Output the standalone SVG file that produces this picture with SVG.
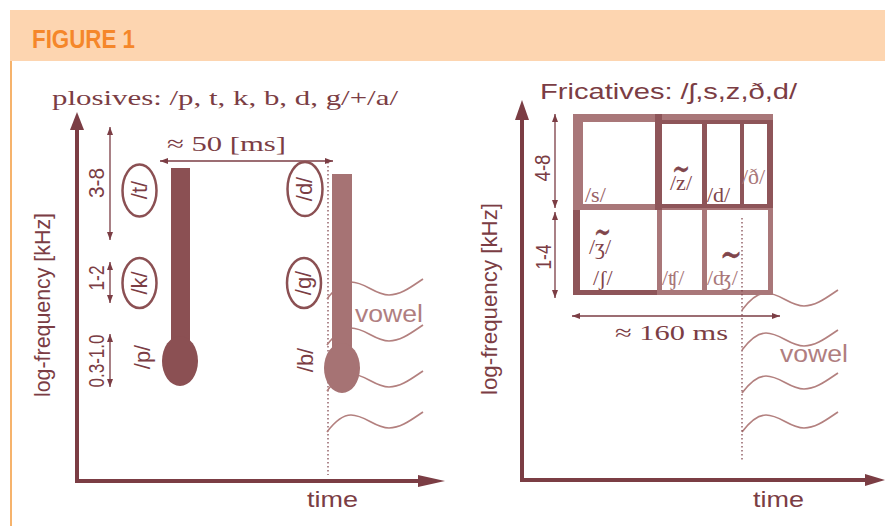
<svg xmlns="http://www.w3.org/2000/svg" width="885" height="526" viewBox="0 0 885 526">
<style>
.sans{font-family:"Liberation Sans",Arial,sans-serif}
.serif{font-family:"Liberation Serif","DejaVu Serif",serif}
.dk{fill:#7B3D44}
.ax{stroke:#7B3D44;fill:none}
.lbl{fill:#7B3D44;font-size:22px}
.thin{stroke:#7B3D44;stroke-width:1.3;fill:none;marker-start:url(#ah);marker-end:url(#ah)}
.oval{fill:#fff;stroke:#8B5053;stroke-width:2.5}
.wave{fill:none;stroke:#B3807F;stroke-width:1.7}
.dot{stroke:#7B3D44;stroke-width:1.2;stroke-dasharray:1.5 2.5;fill:none}
.cd{fill:#7F454B}
.cl{fill:#A97779}
.tl{stroke:#7F454B;stroke-width:0.6}
</style>
<defs>
<marker id="ah" viewBox="0 0 8 6" refX="8" refY="3" markerWidth="8" markerHeight="6" markerUnits="userSpaceOnUse" orient="auto-start-reverse">
<path d="M0,0 L8,3 L0,6 z" fill="#7B3D44"/>
</marker>
<path id="wave" d="M0,0 C6,-8 14,-17 24,-17 C38,-17 48,-4 62,-4 C74,-4 84,-12 96,-20"/>
</defs>
<rect width="885" height="526" fill="#fff"/>
<g id="header">
<rect x="10" y="10" width="875" height="51" fill="#FDD5B0"/>
<line x1="11" y1="61" x2="11" y2="526" stroke="#F39A3B" stroke-width="1.5"/>
<text x="32" y="48" class="sans" font-weight="bold" font-size="26" fill="#F5872A" textLength="103" lengthAdjust="spacingAndGlyphs">FIGURE 1</text>
</g>

<g id="plosives-panel">
<text x="52" y="105" class="serif lbl" font-size="23" textLength="346" lengthAdjust="spacingAndGlyphs">plosives: /p, t, k, b, d, g/+/a/</text>
<text class="sans lbl" font-size="24" text-anchor="middle" transform="translate(50,305) rotate(-90)" textLength="184" lengthAdjust="spacingAndGlyphs">log-frequency [kHz]</text>
<text x="307" y="507" class="sans lbl" textLength="51" lengthAdjust="spacingAndGlyphs">time</text>
<text class="sans lbl" text-anchor="middle" transform="translate(104,183) rotate(-90)" textLength="30" lengthAdjust="spacingAndGlyphs">3-8</text>
<text class="sans lbl" text-anchor="middle" transform="translate(104,278) rotate(-90)" textLength="25" lengthAdjust="spacingAndGlyphs">1-2</text>
<text class="sans lbl" text-anchor="middle" transform="translate(104,361) rotate(-90)" textLength="53" lengthAdjust="spacingAndGlyphs">0.3-1.0</text>
<text x="167" y="151" class="serif lbl" font-size="23" textLength="119" lengthAdjust="spacingAndGlyphs">≈ 50 [ms]</text>
</g>

<g id="connectors">
<line class="ax" x1="77" y1="483" x2="77" y2="126" stroke-width="4"/>
<polygon points="77,112 70,130 84,130" fill="#7B3D44"/>
<line class="ax" x1="75" y1="481" x2="420" y2="481" stroke-width="4"/>
<polygon points="445,481 418,475 418,487" fill="#7B3D44"/>
<line class="thin" x1="110" y1="127" x2="110" y2="240"/>
<line class="thin" x1="110" y1="262" x2="110" y2="303"/>
<line class="thin" x1="110" y1="334" x2="110" y2="387"/>
<line class="thin" x1="160" y1="161" x2="333" y2="161"/>
<line class="dot" x1="328" y1="162" x2="328" y2="475"/>

<line class="ax" x1="522" y1="482" x2="522" y2="114" stroke-width="4"/>
<polygon points="522,100 515,120 529,120" fill="#7B3D44"/>
<line class="ax" x1="520" y1="480" x2="868" y2="480" stroke-width="4"/>
<polygon points="885,480 865,474 865,486" fill="#7B3D44"/>
<line class="thin" x1="555" y1="114" x2="555" y2="208"/>
<line class="thin" x1="555" y1="212" x2="555" y2="298"/>
<line class="thin" x1="572" y1="316" x2="780" y2="316"/>
</g>

<g id="vowel-left">
<use href="#wave" class="wave" transform="translate(327,299)"/>
<use href="#wave" class="wave" transform="translate(327,345)"/>
<use href="#wave" class="wave" transform="translate(327,391)"/>
<use href="#wave" class="wave" transform="translate(327,432)"/>
<text x="355" y="322" class="sans" font-size="23" fill="#B07E80" textLength="68" lengthAdjust="spacingAndGlyphs">vowel</text>
</g>

<g id="burst-p">
<rect x="171" y="168" width="19" height="180" fill="#8B5053"/>
<ellipse cx="180" cy="361" rx="18" ry="25" fill="#8B5053"/>
<text class="sans lbl" text-anchor="middle" transform="translate(150,357) rotate(-90)">/p/</text>
</g>
<g id="burst-b">
<rect x="332" y="174" width="20" height="180" fill="#A67374"/>
<ellipse cx="342" cy="368" rx="18" ry="25" fill="#A67374"/>
<text class="sans lbl" text-anchor="middle" transform="translate(313,360) rotate(-90)">/b/</text>
</g>
<g id="node-t">
<ellipse class="oval" cx="139.5" cy="190.5" rx="17" ry="26"/>
<text class="sans lbl" font-size="21" text-anchor="middle" transform="translate(147,190) rotate(-90)">/t/</text>
</g>
<g id="node-k">
<ellipse class="oval" cx="139.5" cy="283" rx="17" ry="25"/>
<text class="sans lbl" font-size="21" text-anchor="middle" transform="translate(147,283) rotate(-90)">/k/</text>
</g>
<g id="node-d">
<ellipse class="oval" cx="305" cy="189" rx="17.5" ry="27"/>
<text class="sans lbl" font-size="21" text-anchor="middle" transform="translate(312,189) rotate(-90)">/d/</text>
</g>
<g id="node-g">
<ellipse class="oval" cx="304" cy="283" rx="17" ry="25"/>
<text class="sans lbl" font-size="21" text-anchor="middle" transform="translate(311,283) rotate(-90)">/g/</text>
</g>

<g id="fricatives-panel">
<text x="540" y="99" class="sans lbl" textLength="257" lengthAdjust="spacingAndGlyphs">Fricatives: /ʃ,s,z,ð,d/</text>
<text class="sans lbl" font-size="24" text-anchor="middle" transform="translate(497,299) rotate(-90)" textLength="192" lengthAdjust="spacingAndGlyphs">log-frequency [kHz]</text>
<text x="753" y="507" class="sans lbl" textLength="51" lengthAdjust="spacingAndGlyphs">time</text>
<text class="sans lbl" text-anchor="middle" transform="translate(550,168) rotate(-90)" textLength="27" lengthAdjust="spacingAndGlyphs">4-8</text>
<text class="sans lbl" text-anchor="middle" transform="translate(551,257) rotate(-90)" textLength="25" lengthAdjust="spacingAndGlyphs">1-4</text>
<text x="615" y="340" class="serif lbl" font-size="23" textLength="113" lengthAdjust="spacingAndGlyphs">≈ 160 ms</text>
</g>

<g id="vowel-right">
<use href="#wave" class="wave" transform="translate(742,310)"/>
<use href="#wave" class="wave" transform="translate(742,350)"/>
<use href="#wave" class="wave" transform="translate(742,393)"/>
<use href="#wave" class="wave" transform="translate(742,432)"/>
<text x="780" y="362" class="sans" font-size="23" fill="#B07E80" textLength="68" lengthAdjust="spacingAndGlyphs">vowel</text>
</g>

<g id="fricative-chart">
<rect x="573" y="114" width="200" height="181" fill="#A97779"/>
<rect x="583" y="122" width="72" height="82" fill="#fff"/>
<rect x="662" y="124" width="40" height="80" fill="#fff"/>
<rect x="707" y="124" width="33" height="80" fill="#fff"/>
<rect x="744" y="124" width="23" height="80" fill="#fff"/>
<rect x="580" y="210" width="77" height="80" fill="#fff"/>
<rect x="662" y="210" width="40" height="80" fill="#fff"/>
<rect x="707" y="210" width="61" height="80" fill="#fff"/>
<g fill="#8E5559">
<rect x="655" y="114" width="7" height="96"/>
<rect x="655" y="120" width="118" height="4"/>
<rect x="655" y="204" width="118" height="4"/>
<rect x="702" y="120" width="5" height="88"/>
<rect x="740" y="120" width="4" height="88"/>
<rect x="767" y="120" width="6" height="88"/>
<rect x="573" y="210" width="7" height="85"/>
<rect x="573" y="290" width="84" height="5"/>
</g>
<line class="dot" x1="742" y1="218" x2="742" y2="462"/>
<text class="serif" font-size="22" fill="#9A6266" x="585" y="202">/s/</text>
<text class="serif cd" font-size="22"><tspan class="tl" x="672" y="180" font-size="34" textLength="18" lengthAdjust="spacingAndGlyphs">∼</tspan><tspan x="670" y="190">/z/</tspan></text>
<text class="serif cd" font-size="22" x="707" y="202">/d/</text>
<text class="serif cl" font-size="22" x="742" y="184">/ð/</text>
<text class="serif cd" font-size="22"><tspan class="tl" x="594" y="243" font-size="34" textLength="17" lengthAdjust="spacingAndGlyphs">∼</tspan><tspan x="589" y="254">/ʒ/</tspan></text>
<text class="serif cd" font-size="22" x="593" y="285">/ʃ/</text>
<text class="serif cl" font-size="22" x="662" y="285">/ʧ/</text>
<text class="serif"><tspan class="cd tl" x="720" y="267" font-size="38" textLength="22" lengthAdjust="spacingAndGlyphs">∼</tspan><tspan class="cl" x="707" y="285" font-size="22">/ʤ/</tspan></text>
</g>
</svg>
